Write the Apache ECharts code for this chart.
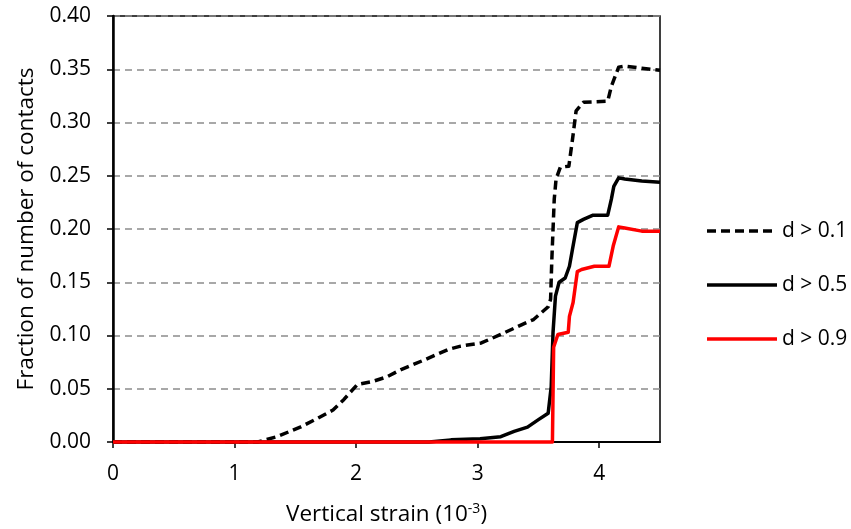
<!DOCTYPE html>
<html>
<head>
<meta charset="utf-8">
<script src="https://cdn.jsdelivr.net/npm/echarts@6/dist/echarts.min.js"></script>
<style>
  html, body { margin: 0; padding: 0; background: #fff; }
  #chart { width: 851px; height: 529px; }
</style>
</head>
<body>
<div id="chart"></div>
<script>
// Vertical strain (10^-3) vs fraction of contacts for three damage thresholds
const xTicks = [0, 1, 2, 3, 4];
const yTicks = [0, 0.05, 0.10, 0.15, 0.20, 0.25, 0.30, 0.35, 0.40];
const seriesNames = ['d > 0.1', 'd > 0.5', 'd > 0.9'];

const d01 = [
  [0, 0], [1.19, 0], [1.35, 0.005], [1.54, 0.014], [1.68, 0.022], [1.81, 0.030],
  [1.90, 0.040], [2.01, 0.054], [2.14, 0.057], [2.25, 0.061], [2.37, 0.068],
  [2.56, 0.077], [2.76, 0.087], [2.86, 0.090], [3.03, 0.093], [3.19, 0.101],
  [3.36, 0.110], [3.46, 0.115], [3.58, 0.127], [3.60, 0.134], [3.61, 0.171],
  [3.63, 0.228], [3.645, 0.247], [3.68, 0.258], [3.75, 0.259], [3.78, 0.284],
  [3.81, 0.311], [3.87, 0.319], [4.07, 0.320], [4.10, 0.334], [4.16, 0.352],
  [4.21, 0.353], [4.35, 0.351], [4.5, 0.349]
];

const d05 = [
  [0, 0], [2.6, 0], [2.78, 0.002], [3.02, 0.003], [3.19, 0.005], [3.30, 0.010],
  [3.41, 0.014], [3.50, 0.021], [3.58, 0.027], [3.595, 0.028], [3.605, 0.052],
  [3.62, 0.103], [3.64, 0.137], [3.67, 0.150], [3.72, 0.154], [3.755, 0.165],
  [3.78, 0.181], [3.82, 0.206], [3.87, 0.209], [3.95, 0.213], [4.07, 0.213],
  [4.10, 0.228], [4.12, 0.240], [4.16, 0.248], [4.21, 0.247], [4.35, 0.245],
  [4.5, 0.244]
];

const d09 = [
  [0, 0], [3.615, 0], [3.625, 0.089], [3.66, 0.101], [3.745, 0.103],
  [3.755, 0.118], [3.785, 0.131], [3.82, 0.160], [3.855, 0.162], [3.96, 0.165],
  [4.08, 0.165], [4.115, 0.184], [4.16, 0.202], [4.21, 0.201], [4.35, 0.198],
  [4.5, 0.198]
];

const FONT = 'Open Sans';
const TICK_SIZE = 21;
const NAME_SIZE = 22.5;
const LINE_W = 3.5;
const DASH = [9, 5];
const colors = ['#000', '#000', '#ff0000'];
const dashes = [DASH, 'solid', 'solid'];

const chart = echarts.init(document.getElementById('chart'), null, { renderer: 'canvas' });

const lineSeries = (i, data) => ({
  name: seriesNames[i],
  type: 'line',
  data: data,
  showSymbol: false,
  symbol: 'none',
  clip: false,
  animation: false,
  lineStyle: { color: colors[i], width: LINE_W, type: dashes[i], cap: 'butt', join: 'round' },
  itemStyle: { color: colors[i] }
});

// Legend drawn as line samples with labels to the right of the plot
const legendGraphics = [];
seriesNames.forEach((name, i) => {
  const cy = 231 + i * 54;
  legendGraphics.push({
    type: 'line',
    shape: { x1: 707, y1: cy, x2: 777, y2: cy },
    style: { stroke: colors[i], lineWidth: LINE_W, lineDash: i === 0 ? DASH : null }
  });
  legendGraphics.push({
    type: 'text',
    x: 782, y: cy,
    style: { text: name, fontFamily: FONT, fontSize: TICK_SIZE, fill: '#000', verticalAlign: 'middle', align: 'left' }
  });
});

chart.setOption({
  animation: false,
  textStyle: { fontFamily: FONT, color: '#000' },
  grid: {
    left: 113, top: 16, right: 191, bottom: 87,
    outerBoundsMode: 'none',
    containLabel: false,
    show: true, borderColor: '#000', borderWidth: 1.5, backgroundColor: 'transparent'
  },
  graphic: legendGraphics,
  xAxis: {
    type: 'value',
    min: 0, max: 4.5, interval: 1,
    name: '{a|Vertical strain (10}{s|-3}{a|)}',
    nameLocation: 'middle',
    nameGap: 60,
    nameTextStyle: {
      rich: {
        a: { fontFamily: FONT, fontSize: NAME_SIZE, color: '#000' },
        s: { fontFamily: FONT, fontSize: 14, color: '#000', verticalAlign: 'top', padding: [0, 0, 12, 0] }
      }
    },
    axisLine: { lineStyle: { color: '#000', width: 2 } },
    axisTick: { show: true, inside: false, length: 6, lineStyle: { color: '#000', width: 1.5 }, customValues: xTicks },
    axisLabel: { fontFamily: FONT, fontSize: TICK_SIZE, color: '#000', margin: 22, customValues: xTicks },
    splitLine: { show: false }
  },
  yAxis: {
    type: 'value',
    min: 0, max: 0.4, interval: 0.05,
    name: 'Fraction of number of contacts',
    nameLocation: 'middle',
    nameGap: 72,
    nameTextStyle: { fontFamily: FONT, fontSize: NAME_SIZE, color: '#000' },
    axisLine: { show: true, lineStyle: { color: '#000', width: 2.5 } },
    axisTick: { show: true, inside: false, length: 6, lineStyle: { color: '#000', width: 1.5 }, customValues: yTicks },
    axisLabel: {
      fontFamily: FONT, fontSize: TICK_SIZE, color: '#000', margin: 22,
      customValues: yTicks,
      formatter: v => v.toFixed(2)
    },
    splitLine: { show: true, lineStyle: { color: '#8c8c8c', width: 1.5, type: [7, 5] } }
  },
  series: [
    lineSeries(0, d01),
    lineSeries(1, d05),
    lineSeries(2, d09)
  ]
});
</script>
</body>
</html>
